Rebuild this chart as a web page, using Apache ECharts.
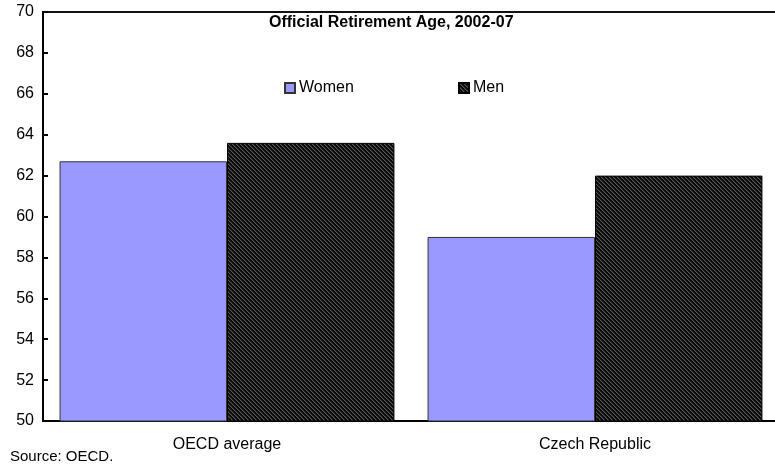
<!DOCTYPE html>
<html>
<head>
<meta charset="utf-8">
<script src="https://cdn.jsdelivr.net/npm/echarts@6/dist/echarts.min.js"></script>
<style>
html,body{margin:0;padding:0;background:#fff;}
#chart{width:775px;height:467px;}
</style>
</head>
<body>
<div id="chart"></div>
<script>
var categories = ['OECD average', 'Czech Republic'];
var women = [62.7, 59.0];
var men = [63.6, 62.0];
var yTicks = [50, 52, 54, 56, 58, 60, 62, 64, 66, 68, 70];

function makeHatch() {
  var n = 4;
  var c = document.createElement('canvas');
  c.width = n; c.height = n;
  var ctx = c.getContext('2d');
  var img = ctx.createImageData(n, n);
  for (var y = 0; y < n; y++) {
    for (var x = 0; x < n; x++) {
      var d = ((x - y) % n + n) % n;
      var v = d === 0 ? 85 : (d === 1 ? 40 : 8);
      var i = (y * n + x) * 4;
      img.data[i] = v; img.data[i + 1] = v; img.data[i + 2] = v; img.data[i + 3] = 255;
    }
  }
  ctx.putImageData(img, 0, 0);
  return c;
}
var hatch = makeHatch();

var FONT = 'Liberation Sans, Arial, sans-serif';
var chart = echarts.init(document.getElementById('chart'), null, {renderer: 'canvas'});
chart.setOption({
  animation: false,
  title: {
    text: 'Official Retirement Age, 2002-07',
    left: 269, top: 15, padding: 0,
    textStyle: {fontFamily: FONT, fontSize: 16, fontWeight: 'bold', color: '#000'}
  },
  legend: [
    {
      data: ['Women'], left: 284, top: 80, padding: 0, icon: 'rect',
      itemWidth: 10, itemHeight: 10, itemGap: 6,
      textStyle: {fontFamily: FONT, fontSize: 16, color: '#000', padding: [0, 0, 0, -1]}
    },
    {
      data: ['Men'], left: 458, top: 80, padding: 0, icon: 'rect',
      itemWidth: 10, itemHeight: 10, itemGap: 6,
      textStyle: {fontFamily: FONT, fontSize: 16, color: '#000', padding: [0, 0, 0, -1]}
    }
  ],
  grid: {
    left: 43, width: 736, top: 12, bottom: 46,
    outerBoundsMode: 'none', containLabel: false,
    show: true, borderColor: '#111', borderWidth: 2, backgroundColor: 'transparent'
  },
  xAxis: {
    type: 'category',
    data: categories,
    axisLine: {lineStyle: {color: '#000', width: 2}},
    axisTick: {inside: true, length: 5, lineStyle: {color: '#000', width: 2}},
    axisLabel: {fontFamily: FONT, fontSize: 16, color: '#000', margin: 16}
  },
  yAxis: {
    type: 'value',
    min: yTicks[0], max: yTicks[yTicks.length - 1], interval: 2,
    axisLine: {show: true, lineStyle: {color: '#000', width: 2}},
    axisTick: {show: true, inside: true, length: 5, lineStyle: {color: '#000', width: 2}},
    splitLine: {show: false},
    axisLabel: {fontFamily: FONT, fontSize: 16, color: '#000', margin: 9}
  },
  series: [
    {
      name: 'Women', type: 'bar', data: women,
      barGap: '0%', barCategoryGap: '9%',
      itemStyle: {color: '#9999ff', borderColor: '#333', borderWidth: 1}
    },
    {
      name: 'Men', type: 'bar', data: men,
      barGap: '0%', barCategoryGap: '9%',
      itemStyle: {color: {image: hatch, repeat: 'repeat'}, borderColor: '#000', borderWidth: 1}
    }
  ],
  graphic: [
    {
      type: 'text', left: 10, top: 449,
      style: {text: 'Source: OECD.', fontFamily: FONT, fontSize: 15, fill: '#000'}
    }
  ]
});
</script>
</body>
</html>
